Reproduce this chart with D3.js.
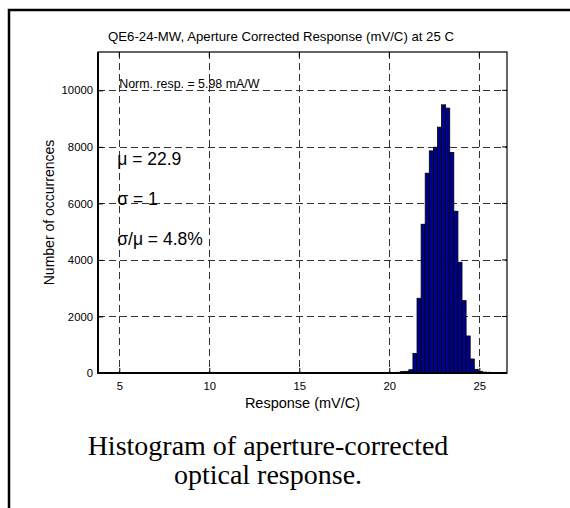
<!DOCTYPE html>
<html><head><meta charset="utf-8">
<script src="https://cdn.jsdelivr.net/npm/d3@7/dist/d3.min.js"></script>
<style>body{margin:0;background:#fff} svg{display:block}</style>
</head><body><svg id="c" width="570" height="508"></svg>
<script>
const title = "QE6-24-MW, Aperture Corrected Response (mV/C) at 25 C";
const xLabel = "Response (mV/C)";
const yLabel = "Number of occurrences";
const xTicks = [5, 10, 15, 20, 25];
const yTicks = [0, 2000, 4000, 6000, 8000, 10000];
const xRange = [3.818, 26.538];
const yRange = [0, 11355];
const binWidth = 0.2272;
const binStarts = [6.317, 6.544, 6.999, 7.226,
  20.176, 20.404, 20.631, 20.858, 21.085, 21.312, 21.540, 21.767, 21.994, 22.221,
  22.449, 22.676, 22.903, 23.130, 23.357, 23.585, 23.812, 24.039, 24.266, 24.494,
  24.721, 24.948, 25.175, 25.402, 25.630, 25.857, 26.084];
const binCounts = [10, 10, 8, 8,
  20, 25, 55, 60, 115, 690, 2644, 5262, 7068, 7858,
  7988, 8696, 9487, 9369, 7799, 5723, 3918, 2560, 1310, 496,
  130, 60, 30, 25, 20, 10, 10];
const normText = "Norm. resp. = 5.98 mA/W";
const statTexts = ["\u03bc = 22.9", "\u03c3 = 1", "\u03c3/\u03bc = 4.8%"];
const caption = ["Histogram of aperture-corrected", "optical response."];

const svg = d3.select("#c");
const L = 98, R = 507, T = 52, B = 373;
const x = d3.scaleLinear().domain(xRange).range([L, R]);
const y = d3.scaleLinear().domain(yRange).range([B, T]);
const sans = "'Liberation Sans', Arial, sans-serif";

// outer frame
svg.append("path").attr("d", "M9,510 L9,10 L572,10")
  .attr("fill", "none").attr("stroke", "#000").attr("stroke-width", 2.5);

// title
svg.append("text").attr("x", 281).attr("y", 41).attr("text-anchor", "middle")
  .attr("font-family", sans).attr("font-size", 13.2).text(title);

// grid
const grid = svg.append("g").attr("stroke", "#333").attr("stroke-width", 1)
  .attr("stroke-dasharray", "7,4").attr("shape-rendering", "crispEdges");
grid.selectAll("line.v").data(xTicks).join("line")
  .attr("x1", d => Math.round(x(d)) + 0.5).attr("x2", d => Math.round(x(d)) + 0.5)
  .attr("y1", T).attr("y2", B);
grid.selectAll("line.h").data(yTicks.filter(d => d > 0)).join("line")
  .attr("x1", L).attr("x2", R)
  .attr("y1", d => Math.round(y(d)) + 0.5).attr("y2", d => Math.round(y(d)) + 0.5);

// bars
const bars = binStarts.map((s, i) => ({x0: s, x1: s + binWidth, c: binCounts[i]}));
svg.append("g").selectAll("rect").data(bars).join("rect")
  .attr("x", d => x(d.x0)).attr("width", d => x(d.x1) - x(d.x0))
  .attr("y", d => y(d.c)).attr("height", d => y(0) - y(d.c))
  .attr("fill", "#00008f").attr("stroke", "#000").attr("stroke-width", 0.8);

// axes box
svg.append("rect").attr("x", L).attr("y", T).attr("width", R - L).attr("height", B - T)
  .attr("fill", "none").attr("stroke", "#000").attr("stroke-width", 1.2);
svg.append("line").attr("x1", L).attr("x2", L).attr("y1", T).attr("y2", B + 1)
  .attr("stroke", "#000").attr("stroke-width", 2);
svg.append("line").attr("x1", L - 1).attr("x2", R).attr("y1", B).attr("y2", B)
  .attr("stroke", "#000").attr("stroke-width", 2);

// axes via d3
const xAxis = d3.axisBottom(x).tickValues(xTicks).tickSize(-5).tickPadding(9).tickFormat(d3.format("d"));
const yAxis = d3.axisLeft(y).tickValues(yTicks).tickSize(-5).tickPadding(5).tickFormat(d3.format("d"));
const gx = svg.append("g").attr("transform", `translate(0,${B})`).call(xAxis);
const gy = svg.append("g").attr("transform", `translate(${L},0)`).call(yAxis);
[gx, gy].forEach(g => {
  g.select(".domain").remove();
  g.selectAll("text").attr("font-family", sans).attr("font-size", 11.3).attr("fill", "#000");
  g.selectAll("line").attr("stroke", "#000");
});
// ticks on top and right
svg.append("g").selectAll("line").data(xTicks).join("line")
  .attr("x1", d => x(d)).attr("x2", d => x(d)).attr("y1", T).attr("y2", T + 5).attr("stroke", "#000");
svg.append("g").selectAll("line").data(yTicks).join("line")
  .attr("x1", R - 5).attr("x2", R).attr("y1", d => y(d)).attr("y2", d => y(d)).attr("stroke", "#000");

// axis labels
svg.append("text").attr("x", (L + R) / 2).attr("y", 408).attr("text-anchor", "middle")
  .attr("font-family", sans).attr("font-size", 14.5).text(xLabel);
svg.append("text").attr("transform", `translate(54,${(T + B) / 2}) rotate(-90)`)
  .attr("text-anchor", "middle").attr("font-family", sans).attr("font-size", 14).text(yLabel);

// annotations
svg.append("text").attr("x", x(5)).attr("y", 88).attr("font-family", sans)
  .attr("font-size", 12.4).text(normText);
svg.append("g").selectAll("text").data(statTexts).join("text")
  .attr("x", x(5) - 2).attr("y", (d, i) => 165 + i * 40)
  .attr("font-family", sans).attr("font-size", 17.5).text(d => d);

// caption
svg.append("g").selectAll("text").data(caption).join("text")
  .attr("x", 268).attr("y", (d, i) => 455 + i * 29).attr("text-anchor", "middle")
  .attr("font-family", "'Liberation Serif', 'Times New Roman', serif").attr("font-size", 28).text(d => d);
</script></body></html>
